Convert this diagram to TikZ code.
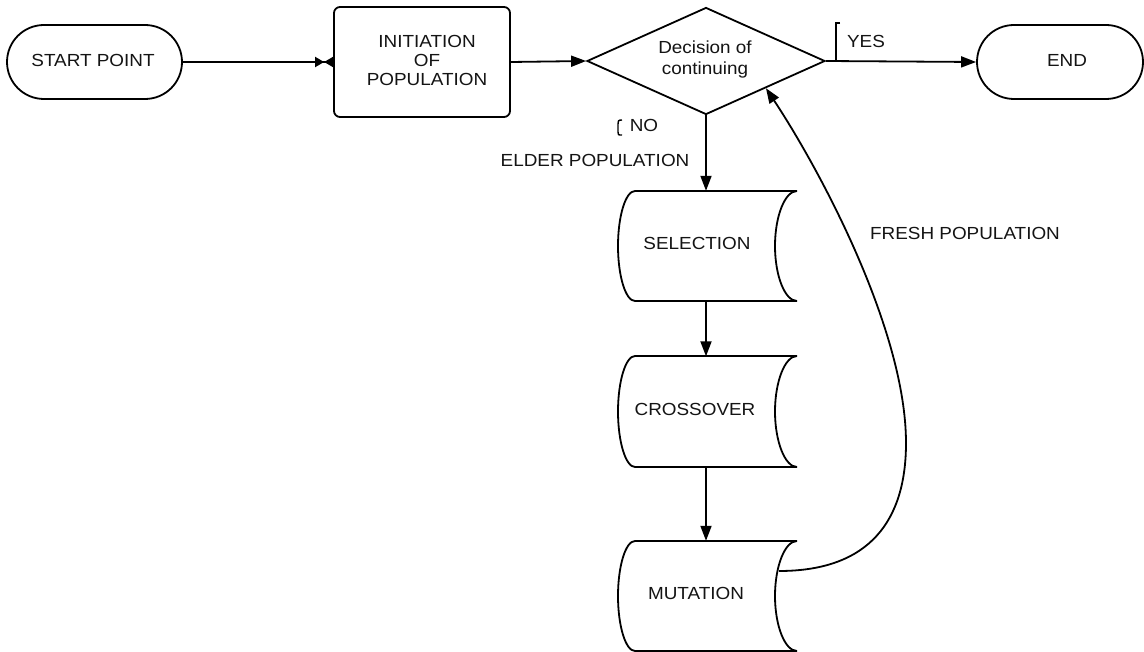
\documentclass[tikz,border=0pt]{standalone}
\usepackage{fontspec}
\setmainfont{Liberation Sans}[FakeStretch=1.08]
\usetikzlibrary{shapes.geometric,shapes.misc,arrows.meta}
\begin{document}
\begin{tikzpicture}[x=1pt,y=-1pt,
  every node/.style={font=\fontsize{17.5}{20}\selectfont, text=black!92},
  line/.style={line width=1.8pt, draw=black},
  arr/.style={line, -{Triangle[length=15pt,width=11pt]}},
  terminal/.style={rounded rectangle, line, minimum height=74pt, inner sep=0pt},
  procbox/.style={rectangle, line, rounded corners=6pt, minimum width=176pt, minimum height=110pt, align=center, inner sep=0pt},
  decbox/.style={diamond, line, aspect=2.22, minimum width=238pt, minimum height=107pt, inner sep=0pt, align=center},
  storebox/.style={rectangle, minimum width=179pt, minimum height=110pt, inner sep=0pt},
  lbl/.style={inner sep=0pt},
  brk/.style={line width=1.4pt, draw=black}
]
\useasboundingbox (0,0) rectangle (1144,652);
\fill[white] (0,0) rectangle (1144,652);

% storage shape outline: left extreme x1, right x2, top T, bottom B
\newcommand{\StoreOutline}[4]{%
  \pgfmathsetmacro{\sM}{(#3+#4)/2}%
  \draw[line]
    (#1+17,#3) -- (#2,#3)
    (#2,#3) .. controls (#2-12,#3) and (#2-22,\sM-30) .. (#2-22,\sM)
            .. controls (#2-22,\sM+30) and (#2-12,#4) .. (#2,#4)
    (#2,#4) -- (#1+17,#4)
            .. controls (#1+7.6,#4) and (#1,\sM+30) .. (#1,\sM)
            .. controls (#1,\sM-30) and (#1+7.6,#3) .. (#1+17,#3);
}

% nodes
\node[terminal, minimum width=175pt] (start) at (94.5,62) {};
\node[lbl] at (93,60) {START POINT};
\node[procbox] (init) at (422,62) {};
\node[lbl, align=center] at (427,60) {INITIATION\\[-1pt]OF\\[-1pt]POPULATION};
\node[decbox] (dec) at (706,61) {};
\node[lbl, align=center] at (705,59) {Decision of\\[1pt]continuing};
\node[terminal, minimum width=166pt] (end) at (1060,62) {};
\node[lbl] at (1067,60) {END};

\node[storebox] (sel) at (707.5,246) {};
\StoreOutline{618}{797}{191}{301}
\node[lbl] at (697,243) {SELECTION};

\node[storebox] (cro) at (707.5,411.5) {};
\StoreOutline{618}{797}{356}{467}
\node[lbl] at (695,409) {CROSSOVER};

\node[storebox] (mut) at (707.5,596) {};
\StoreOutline{618}{797}{541}{651}
\node[lbl] at (696,593) {MUTATION};

% labels
\node[lbl] (yes) at (866,41) {YES};
\node[lbl] (no) at (644,125) {NO};
\node[lbl] (elder) at (595,160) {ELDER POPULATION};
\node[lbl] (fresh) at (965,233) {FRESH POPULATION};

% brackets
\draw[brk] (840,23) -- (836,23) -- (836,62);
\draw[brk] (622,120) .. controls (618,120) and (618,121) .. (618,124) -- (618,132) .. controls (618,135) and (618,135) .. (622,135);

% connectors
\draw[line, -{Triangle[length=9pt,width=10pt] Triangle[length=9pt,width=10pt,reversed]}] (start.east) -- (init.west);
\draw[arr] (init.east) -- (dec.west);
\draw[arr] (dec.east) -- (end.west);
\draw[arr] (dec.south) -- (dec.south |- sel.north);
\draw[arr] (dec.south |- sel.south) -- (dec.south |- cro.north);
\draw[arr] (dec.south |- cro.south) -- (dec.south |- mut.north);
\coordinate (mutout) at (779,571);
\draw[arr] (mutout) .. controls (870,571) and (906,520) .. (906,443)
                    .. controls (906,330) and (820,170) .. (dec.south east);
\end{tikzpicture}
\end{document}
